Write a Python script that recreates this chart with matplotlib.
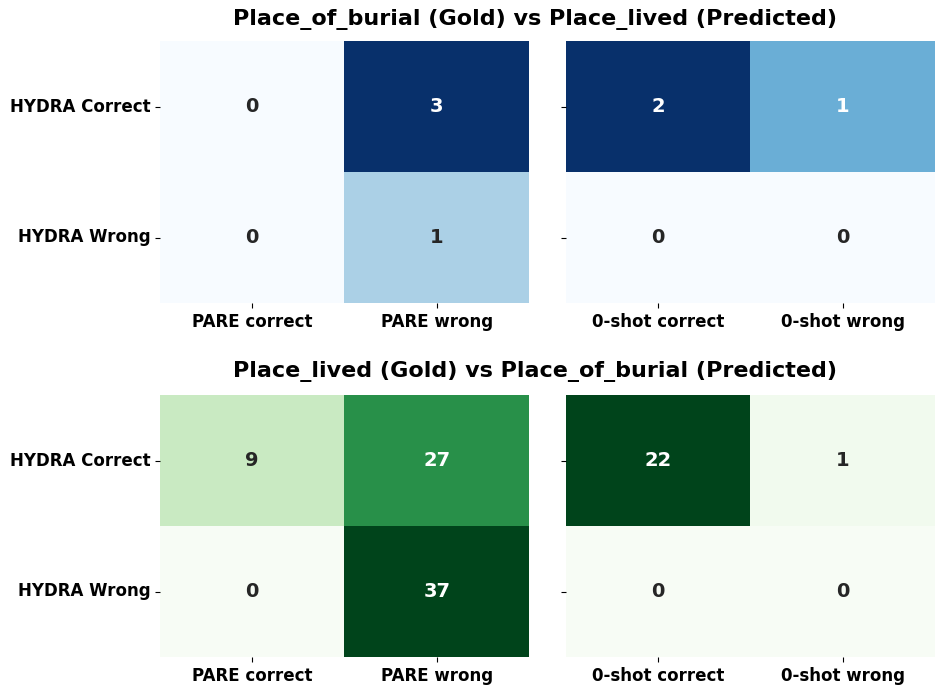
import numpy as np
import matplotlib
matplotlib.use("Agg")
import matplotlib.pyplot as plt
import seaborn as sns

# data
row_labels = ["HYDRA Correct", "HYDRA Wrong"]
pare_labels = ["PARE correct", "PARE wrong"]
zero_labels = ["0-shot correct", "0-shot wrong"]

burial_vs_lived_pare = [[0, 3], [0, 1]]
burial_vs_lived_zero = [[2, 1], [0, 0]]
lived_vs_burial_pare = [[9, 27], [0, 37]]
lived_vs_burial_zero = [[22, 1], [0, 0]]

title_top = "Place_of_burial (Gold) vs Place_lived (Predicted)"
title_bottom = "Place_lived (Gold) vs Place_of_burial (Predicted)"

fig = plt.figure(figsize=(9.45, 6.95), dpi=100)

W, H = 945, 695
def box(x0, y0, x1, y1):
    return [x0 / W, 1 - y1 / H, (x1 - x0) / W, (y1 - y0) / H]

panels = [
    (box(160, 41, 529, 303), burial_vs_lived_pare, pare_labels, "Blues", True),
    (box(566, 41, 935, 303), burial_vs_lived_zero, zero_labels, "Blues", False),
    (box(160, 395, 529, 657), lived_vs_burial_pare, pare_labels, "Greens", True),
    (box(566, 395, 935, 657), lived_vs_burial_zero, zero_labels, "Greens", False),
]

for rect, vals, xlabels, cmap, show_y in panels:
    ax = fig.add_axes(rect)
    sns.heatmap(np.array(vals), annot=True, fmt="d", cmap=cmap, cbar=False, ax=ax,
                annot_kws={"size": 14, "weight": "bold"},
                xticklabels=xlabels, yticklabels=row_labels if show_y else ["", ""])
    ax.tick_params(axis="both", labelsize=12)
    for t in ax.get_xticklabels() + ax.get_yticklabels():
        t.set_fontweight("bold")
    plt.setp(ax.get_yticklabels(), rotation=0)

fig.text(535 / W, 1 - 19 / H, title_top, ha="center", va="center", fontsize=16, fontweight="bold")
fig.text(535 / W, 1 - 371 / H, title_bottom, ha="center", va="center", fontsize=16, fontweight="bold")

fig.savefig("out.png", dpi=100)
